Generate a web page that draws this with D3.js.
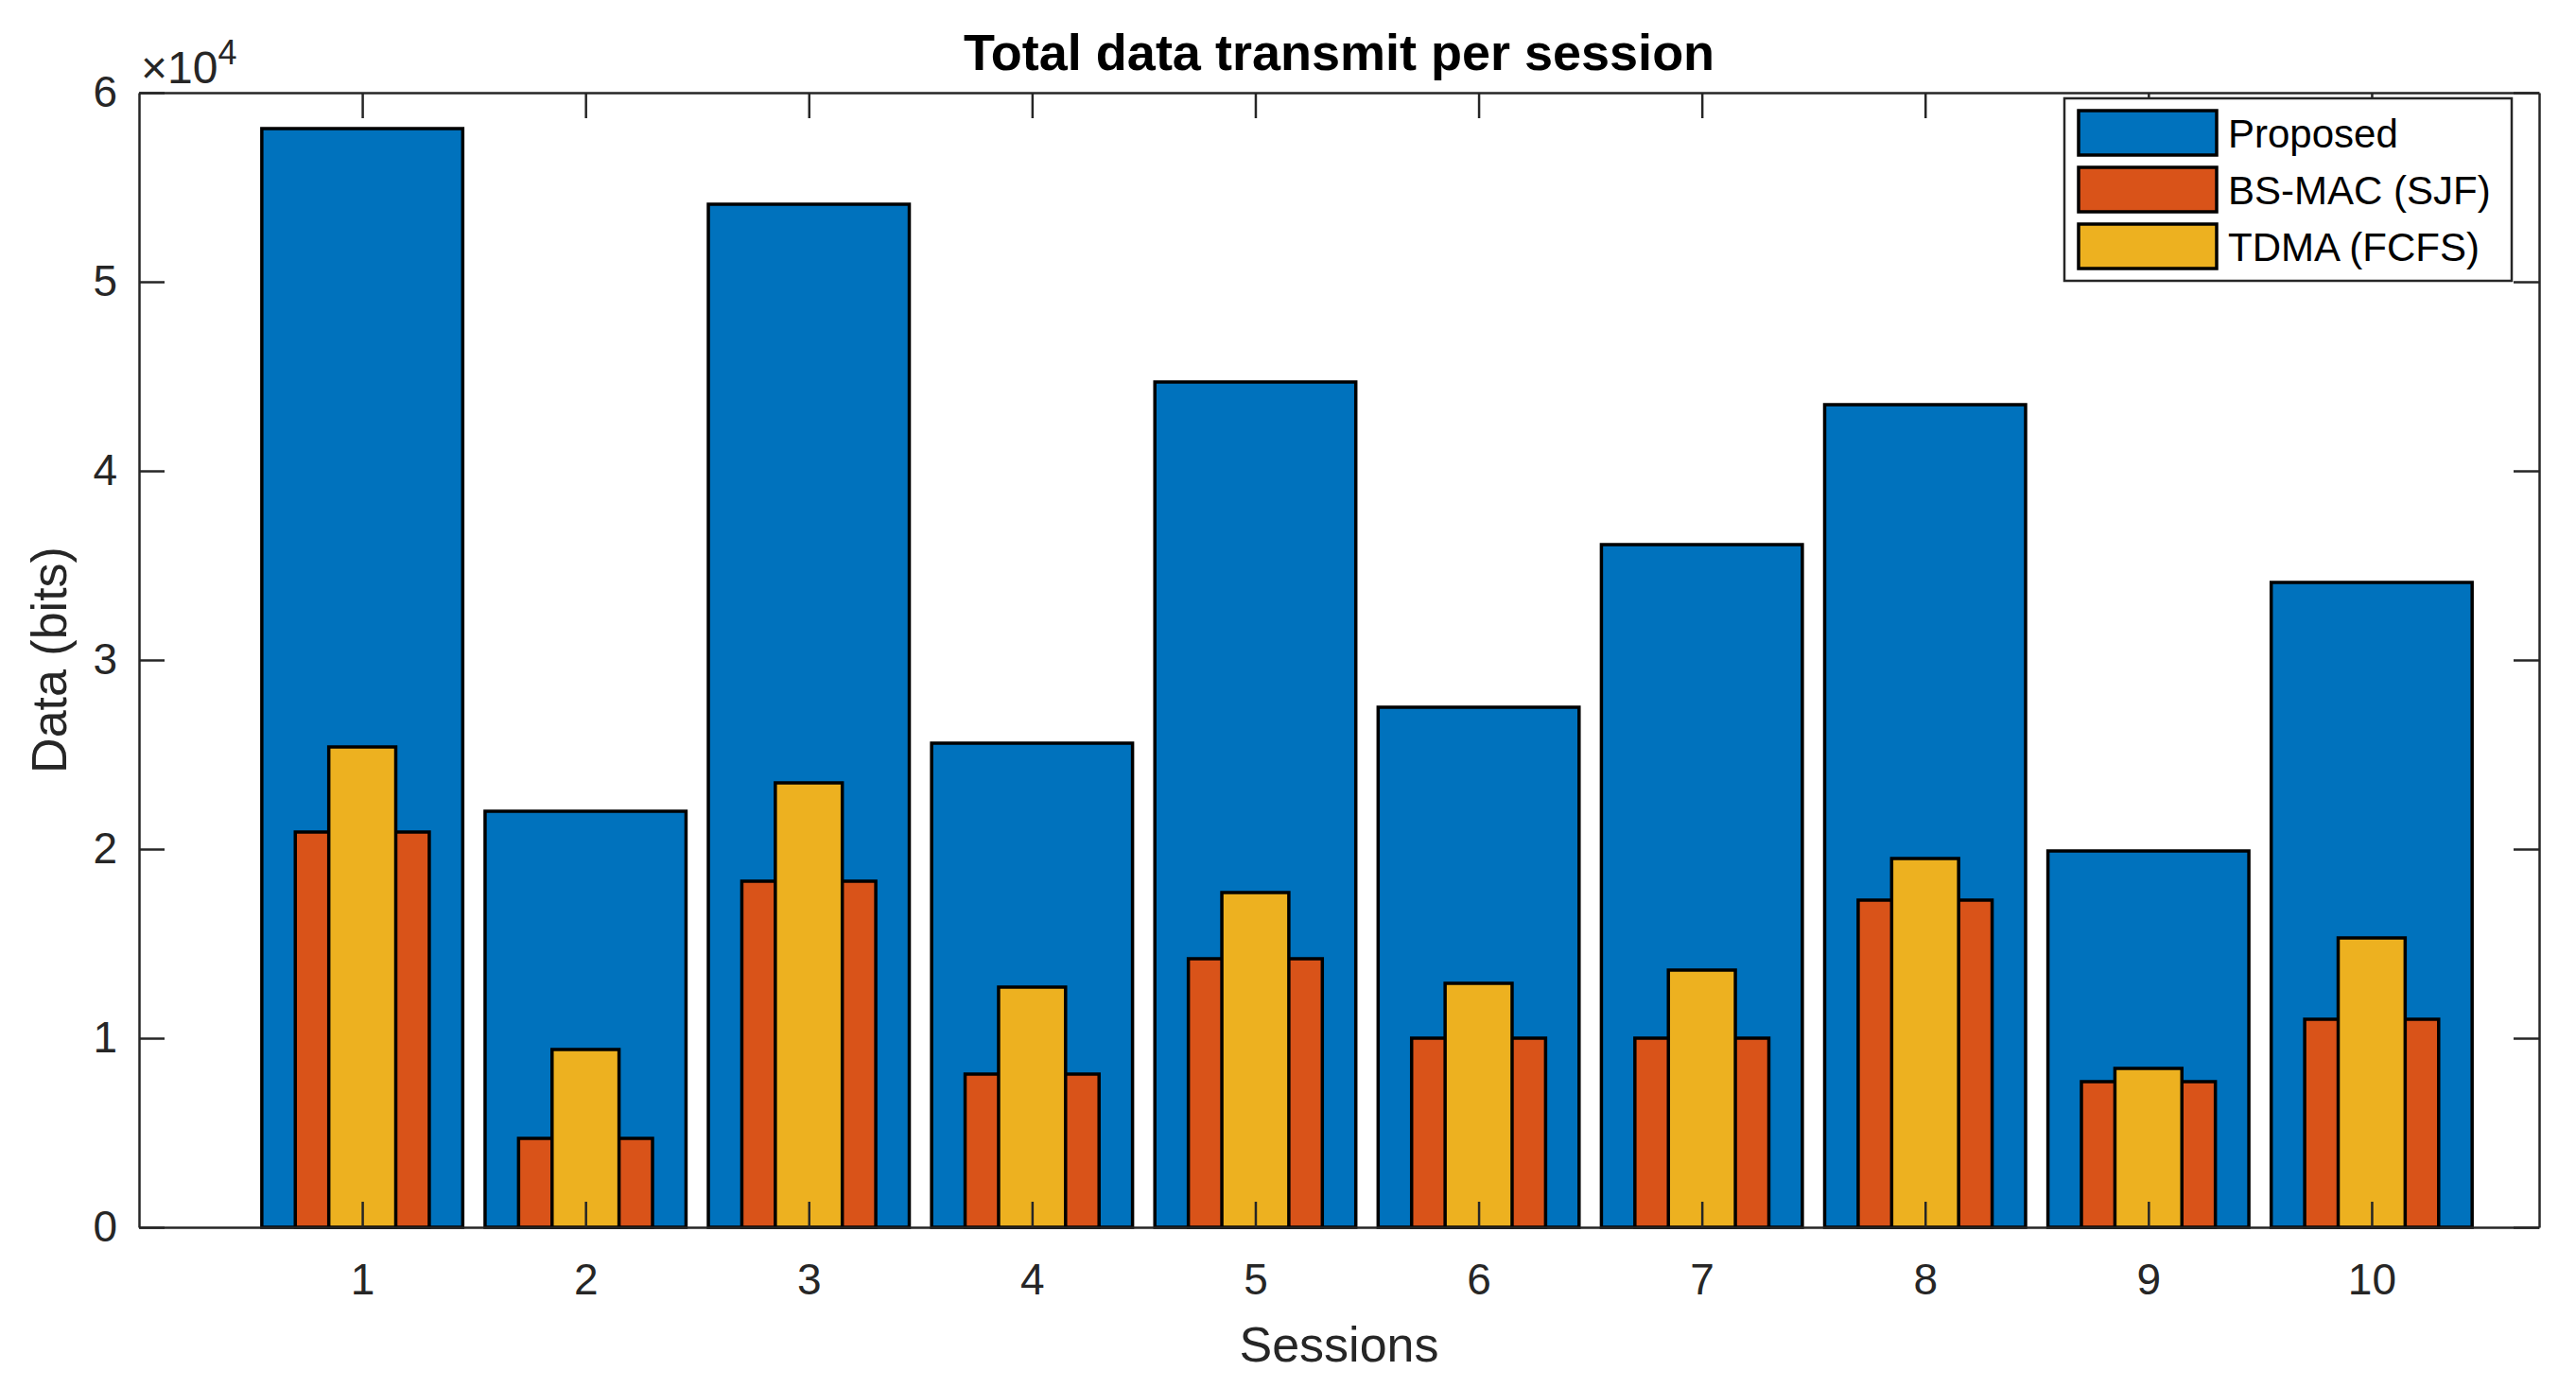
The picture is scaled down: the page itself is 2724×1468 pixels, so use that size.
<!DOCTYPE html>
<html lang="en">
<head>
<meta charset="UTF-8">
<title>Total data transmit per session</title>
<script src="https://cdn.jsdelivr.net/npm/d3@7/dist/d3.min.js"></script>
<style>
  body { margin: 0; background: #fff; }
  text { font-family: 'Liberation Sans', Arial, sans-serif; }
  .axis path, .axis line { stroke: #262626; stroke-width: 2.5; }
  .axis text { fill: #262626; font-size: 46px; }
</style>
</head>
<body>
<script>
// data
var sessions = [1, 2, 3, 4, 5, 6, 7, 8, 9, 10];
var proposed = [58100, 22000, 54100, 25600, 44700, 27500, 36100, 43500, 19900, 34100];
var bsmac    = [20900, 4700, 18300, 8100, 14200, 10000, 10000, 17300, 7700, 11000];
var tdma     = [25400, 9400, 23500, 12700, 17700, 12900, 13600, 19500, 8400, 15300];
var seriesNames = ['Proposed', 'BS-MAC (SJF)', 'TDMA (FCFS)'];
var yTicks = [0, 10000, 20000, 30000, 40000, 50000, 60000];

var W = 2724, H = 1468;
var m = {left: 147, right: 39, top: 98, bottom: 170};
var colors = ['#0072BD', '#D95319', '#EDB120'];
var widths = [0.9, 0.6, 0.3];   // bar widths in session units, drawn on top of each other

var svg = d3.select('body').append('svg').attr('width', W).attr('height', H);

var x = d3.scaleLinear().domain([0, 10.75]).range([m.left, W - m.right]);
var y = d3.scaleLinear().domain([0, 60000]).range([H - m.bottom, m.top]);

var series = [proposed, bsmac, tdma];
series.forEach(function(vals, s) {
    svg.append('g').selectAll('rect')
        .data(vals)
        .enter().append('rect')
        .attr('x', function(d, i) { return x(sessions[i] - widths[s] / 2); })
        .attr('width', function() { return x(widths[s]) - x(0); })
        .attr('y', function(d) { return y(d); })
        .attr('height', function(d) { return y(0) - y(d); })
        .style('fill', colors[s])
        .style('stroke', '#000')
        .style('stroke-width', 3.5);
});

// axes box, ticks point inward
var tl = 27;
svg.append('g').attr('class', 'axis')
    .attr('transform', 'translate(0,' + (H - m.bottom) + ')')
    .call(d3.axisBottom(x).tickValues(sessions).tickFormat(d3.format('d')).tickSizeInner(-tl).tickSizeOuter(0).tickPadding(38));
svg.append('g').attr('class', 'axis')
    .attr('transform', 'translate(0,' + m.top + ')')
    .call(d3.axisTop(x).tickValues(sessions).tickFormat('').tickSizeInner(-tl).tickSizeOuter(0));
svg.append('g').attr('class', 'axis')
    .attr('transform', 'translate(' + m.left + ',0)')
    .call(d3.axisLeft(y).tickValues(yTicks).tickFormat(function(d) { return d / 10000; }).tickSizeInner(-tl).tickSizeOuter(0).tickPadding(23));
svg.append('g').attr('class', 'axis')
    .attr('transform', 'translate(' + (W - m.right) + ',0)')
    .call(d3.axisRight(y).tickValues(yTicks).tickFormat('').tickSizeInner(-tl).tickSizeOuter(0));

// exponent
var ex = svg.append('text').attr('x', m.left + 2).attr('y', 88)
    .style('font-size', '48px').style('fill', '#262626').text('\u00d710');
ex.append('tspan').attr('dy', -20).style('font-size', '36px').text('4');

// title and labels
svg.append('text').attr('x', (m.left + W - m.right) / 2).attr('y', 74)
    .attr('text-anchor', 'middle').style('font-size', '54px').style('font-weight', 'bold')
    .style('fill', '#000').text('Total data transmit per session');
svg.append('text').attr('x', (m.left + W - m.right) / 2).attr('y', 1440)
    .attr('text-anchor', 'middle').style('font-size', '52px').style('fill', '#262626').text('Sessions');
svg.append('text').attr('transform', 'translate(70,' + (m.top + H - m.bottom) / 2 + ') rotate(-90)')
    .attr('text-anchor', 'middle').style('font-size', '52px').style('fill', '#262626').text('Data (bits)');

// legend
var lg = svg.append('g');
lg.append('rect').attr('x', 2183).attr('y', 104).attr('width', 473).attr('height', 193)
    .style('fill', '#fff').style('stroke', '#262626').style('stroke-width', 2.5);
seriesNames.forEach(function(name, i) {
    lg.append('rect').attr('x', 2198).attr('y', 117 + i * 60).attr('width', 146).attr('height', 47)
        .style('fill', colors[i]).style('stroke', '#000').style('stroke-width', 3.5);
    lg.append('text').attr('x', 2356).attr('y', 156 + i * 60)
        .style('font-size', '42px').style('fill', '#000').text(name);
});
</script>
</body>
</html>
